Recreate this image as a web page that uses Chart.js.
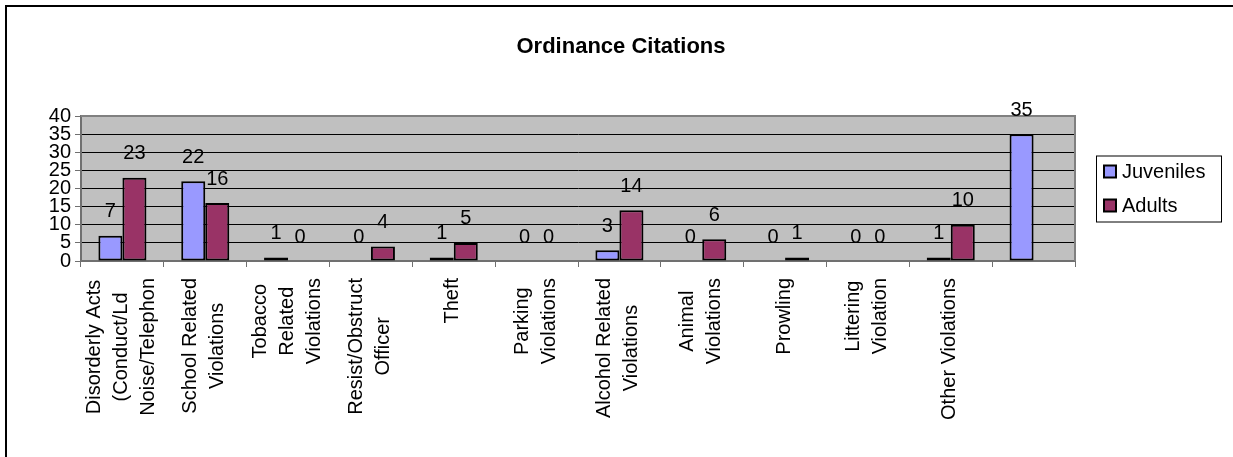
<!DOCTYPE html>
<html>
<head>
<meta charset="utf-8">
<title>Ordinance Citations</title>
<script src="https://cdn.jsdelivr.net/npm/chart.js@4.4.1/dist/chart.umd.min.js"></script>
<style>
  html, body { margin: 0; padding: 0; background: #fff; }
  #wrap { position: relative; width: 1233px; height: 457px; overflow: hidden; }
  #frame { position: absolute; left: 5px; top: 5px; width: 1300px; height: 500px;
           border-top: 2px solid #000; border-left: 2px solid #000; pointer-events: none; }
  canvas { position: absolute; left: 0; top: 0; }
</style>
</head>
<body>
<div id="wrap">
  <canvas id="chart" width="1233" height="457"></canvas>
  <div id="frame"></div>
</div>
<script>
// Chart data
const chartTitle = "Ordinance Citations";
const categories = [
  ["Disorderly Acts", "(Conduct/Ld", "Noise/Telephon"],
  ["School Related", "Violations"],
  ["Tobacco", "Related", "Violations"],
  ["Resist/Obstruct", "Officer"],
  ["Theft"],
  ["Parking", "Violations"],
  ["Alcohol Related", "Violations"],
  ["Animal", "Violations"],
  ["Prowling"],
  ["Littering", "Violation"],
  ["Other Violations"],
  [""],
];
const seriesNames = ["Juveniles", "Adults"];
const juveniles = [7, 22, 1, 0, 1, 0, 3, 0, 0, 0, 1, 35];
const adults = [23, 16, 0, 4, 5, 0, 14, 6, 1, 0, 10, null];
const yTicks = [0, 5, 10, 15, 20, 25, 30, 35, 40];

const FONT = '"Liberation Sans", Arial, sans-serif';
const colors = ["#9999FF", "#993366"];

// Grey plot background + grey border on top/right
const plotArea = {
  id: "plotArea",
  beforeDraw(chart) {
    const { ctx, chartArea: a } = chart;
    ctx.save();
    ctx.fillStyle = "#C0C0C0";
    ctx.fillRect(a.left, a.top, a.right - a.left, a.bottom - a.top);
    ctx.restore();
  },
  afterDatasetsDraw(chart) {
    const { ctx, chartArea: a } = chart;
    ctx.save();
    ctx.strokeStyle = "#808080";
    ctx.lineWidth = 2;
    ctx.beginPath();
    ctx.moveTo(a.left, a.top);
    ctx.lineTo(a.right, a.top);
    ctx.lineTo(a.right, a.bottom);
    ctx.stroke();
    ctx.restore();
  },
};

// Value labels above each bar
const valueLabels = {
  id: "valueLabels",
  afterDatasetsDraw(chart) {
    const ctx = chart.ctx;
    ctx.save();
    ctx.font = "20px " + FONT;
    ctx.fillStyle = "#000";
    ctx.textAlign = "center";
    ctx.textBaseline = "middle";
    chart.data.datasets.forEach((ds, di) => {
      chart.getDatasetMeta(di).data.forEach((bar, i) => {
        const v = ds.data[i];
        if (v === null || v === undefined) return;
        ctx.fillText(String(v), bar.x, bar.y - 24);
      });
    });
    ctx.restore();
  },
};

// Rotated, centred category labels
const categoryLabels = {
  id: "categoryLabels",
  afterDraw(chart) {
    const ctx = chart.ctx;
    const xs = chart.scales.x;
    const lineH = 27;
    ctx.save();
    ctx.font = "20px " + FONT;
    ctx.fillStyle = "#000";
    ctx.textAlign = "center";
    ctx.textBaseline = "middle";
    categories.forEach((lines, i) => {
      const x = xs.getPixelForValue(i) - 1;
      const top = xs.top + 17;
      const maxW = Math.max(...lines.map((l) => ctx.measureText(l).width));
      ctx.save();
      ctx.translate(x, top);
      ctx.rotate(-Math.PI / 2);
      lines.forEach((line, j) => {
        ctx.fillText(line, -maxW / 2, (j - (lines.length - 1) / 2) * lineH);
      });
      ctx.restore();
    });
    ctx.restore();
  },
};

// Title and boxed legend
const titleLegend = {
  id: "titleLegend",
  afterDraw(chart) {
    const ctx = chart.ctx;
    ctx.save();
    ctx.fillStyle = "#000";
    ctx.font = "bold 22px " + FONT;
    ctx.textAlign = "center";
    ctx.textBaseline = "middle";
    ctx.fillText(chartTitle, 621, 47);

    const a = chart.chartArea;
    const bx = a.right + 21, by = (a.top + a.bottom) / 2 - 33;
    ctx.strokeStyle = "#000";
    ctx.lineWidth = 1;
    ctx.strokeRect(bx + 0.5, by + 0.5, 125, 66);
    ctx.font = "20px " + FONT;
    ctx.textAlign = "left";
    seriesNames.forEach((name, i) => {
      const cy = by + 16 + i * 34;
      ctx.fillStyle = colors[i];
      ctx.fillRect(bx + 8, cy - 6, 12, 12);
      ctx.lineWidth = 2;
      ctx.strokeRect(bx + 8, cy - 6, 12, 12);
      ctx.fillStyle = "#000";
      ctx.fillText(name, bx + 26, cy + 1);
    });
    ctx.restore();
  },
};

const zeroless = (c) => (c.raw === 0 ? 0 : 2);

new Chart(document.getElementById("chart"), {
  type: "bar",
  data: {
    labels: categories.map((c) => c.join(" ")),
    datasets: [
      {
        label: seriesNames[0],
        data: juveniles,
        backgroundColor: colors[0],
        borderColor: "#000",
        borderWidth: zeroless,
        borderSkipped: false,
      },
      {
        label: seriesNames[1],
        data: adults,
        backgroundColor: colors[1],
        borderColor: "#000",
        borderWidth: zeroless,
        borderSkipped: false,
      },
    ],
  },
  options: {
    responsive: false,
    animation: false,
    devicePixelRatio: 1,
    layout: { padding: { left: 0, right: 158, top: 116, bottom: 0 } },
    datasets: { bar: { barPercentage: 1.0, categoryPercentage: 0.58 } },
    plugins: {
      legend: { display: false },
      title: { display: false },
      tooltip: { enabled: false },
    },
    scales: {
      x: {
        grid: { display: true, drawOnChartArea: false, offset: true, color: "#707070", tickLength: 6 },
        border: { color: "#707070", width: 2 },
        ticks: { display: false },
        afterFit: (s) => { s.height = 457 - 261; },
      },
      y: {
        min: 0,
        max: 40,
        afterBuildTicks: (s) => { s.ticks = yTicks.map((v) => ({ value: v })); },
        grid: { color: "#000", lineWidth: 1, tickLength: 6, tickColor: "#707070" },
        border: { color: "#707070", width: 2 },
        ticks: {
          color: "#000",
          font: { family: FONT, size: 20, lineHeight: 0.9 },
          padding: 4,
          autoSkip: false,
        },
        afterFit: (s) => { s.width = 81; },
      },
    },
  },
  plugins: [plotArea, valueLabels, categoryLabels, titleLegend],
});
</script>
</body>
</html>
